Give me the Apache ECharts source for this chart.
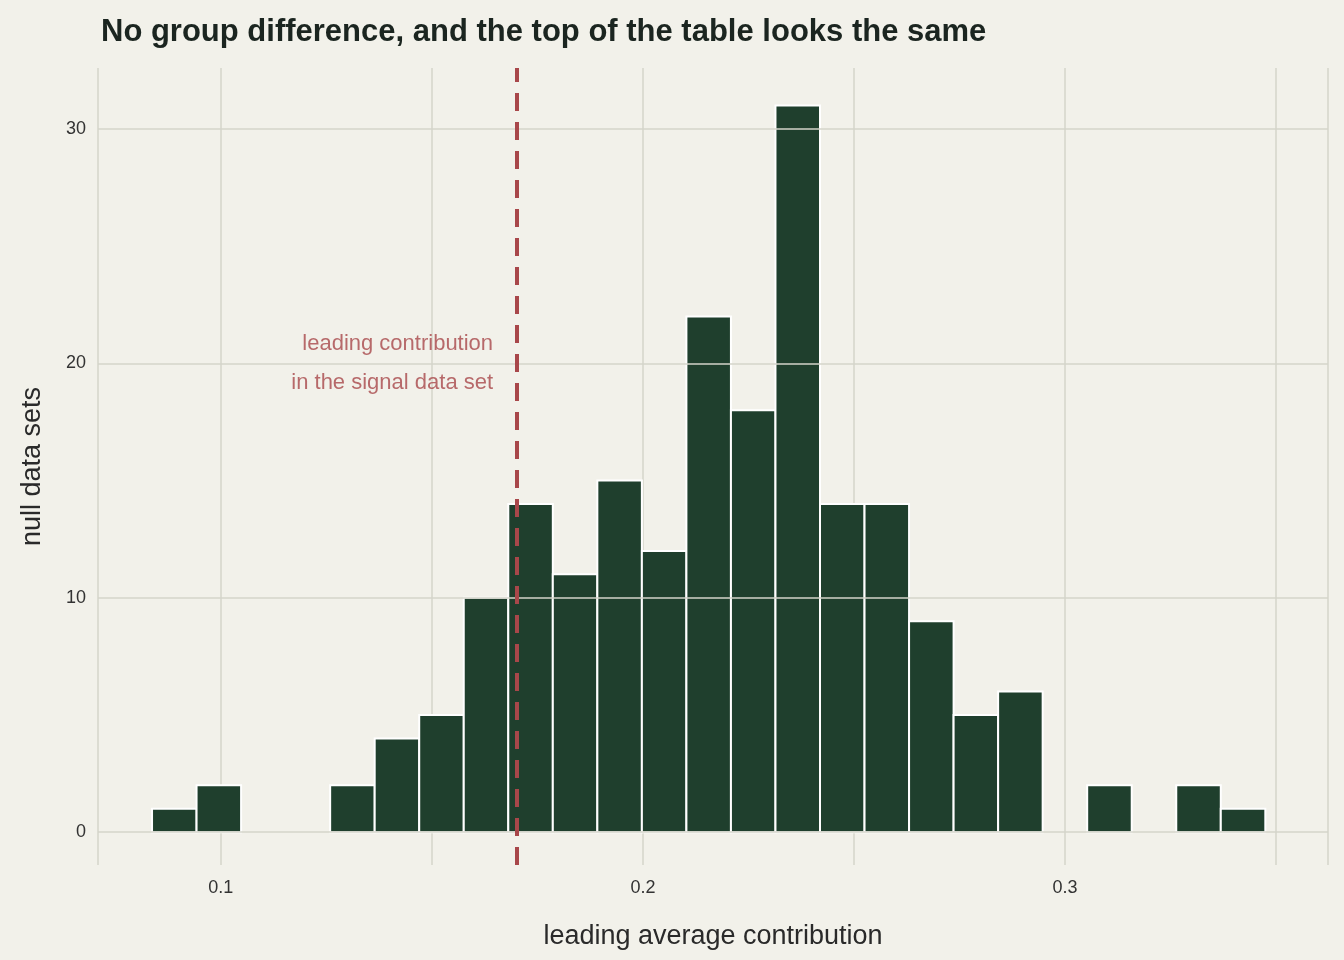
<!DOCTYPE html>
<html><head><meta charset="utf-8">
<script src="https://cdn.jsdelivr.net/npm/echarts@6/dist/echarts.min.js"></script>
<style>html,body{margin:0;background:#f2f1ea}#c{width:1344px;height:960px}</style>
</head><body><div id="c"></div>
<script>
const binStart = 0.0837;
const binWidth = 0.01055;
const counts = [1,2,0,0,2,4,5,10,14,11,15,12,22,18,31,14,14,9,5,6,0,2,0,2,1];
const signalValue = 0.1673;
const xTicks = [0.1,0.2,0.3];
const yTicks = [0,10,20,30];

const data = counts.map((c,i)=>[binStart+i*binWidth, binStart+(i+1)*binWidth, c]).filter(d=>d[2]>0);
const chart = echarts.init(document.getElementById('c'));
const font = 'Helvetica, "Liberation Sans", Arial, sans-serif';
chart.setOption({
  backgroundColor:'#f2f1ea',
  title:{text:'No group difference, and the top of the table looks the same',left:96,top:12,
    textStyle:{fontFamily:font,fontSize:31,fontWeight:'bold',color:'#1b2520'}},
  grid:{left:98,right:16,top:68,bottom:95},
  xAxis:{type:'value',min:0.0709,max:0.3623,
    name:'leading average contribution',nameLocation:'middle',nameGap:58,
    nameTextStyle:{fontFamily:font,fontSize:27,color:'#2a2a2a'},
    axisLine:{show:false},axisTick:{show:false},
    axisLabel:{fontFamily:font,fontSize:18,color:'#333',margin:14,
      customValues:xTicks,formatter:v=>String(v)},
    splitLine:{show:true,lineStyle:{color:'#d4d4ca',width:1.5}},
    axisPointer:{show:false}},
  yAxis:{type:'value',min:-1.4,max:32.6,
    name:'null data sets',nameLocation:'middle',nameGap:52,
    nameTextStyle:{fontFamily:font,fontSize:27,color:'#2a2a2a'},
    axisLine:{show:false},axisTick:{show:false},
    axisLabel:{fontFamily:font,fontSize:18,color:'#333',margin:12,customValues:yTicks},
    splitLine:{show:false}},
  series:[
    {type:'line',data:yTicks.map(v=>[0.0709,v]),symbol:'none',lineStyle:{opacity:0},silent:true,
      markLine:{silent:true,symbol:'none',label:{show:false},
        lineStyle:{color:'#d4d4ca',width:1.5,type:'solid'},data:yTicks.map(v=>({yAxis:v}))}},
    {type:'custom',data:data,encode:{x:[0,1],y:2},
     renderItem:(p,api)=>{
       const a=api.coord([api.value(0),api.value(2)]);
       const b=api.coord([api.value(1),0]);
       return {type:'rect',shape:{x:a[0],y:a[1],width:b[0]-a[0],height:b[1]-a[1]},
         style:{fill:'#1f3f2d',stroke:'#ffffff',lineWidth:2}};
     },
     markLine:{silent:true,symbol:'none',label:{show:false},
       lineStyle:{color:'#a8474a',width:4,type:[18,11]},data:[{xAxis:signalValue}]},
     z:3},
    {type:'scatter',data:[[signalValue-0.0028,20]],symbolSize:0,silent:true,
     label:{show:true,position:'left',distance:0,align:'right',
       formatter:'leading contribution\nin the signal data set',
       fontFamily:font,fontSize:22,lineHeight:39,color:'#a8474a'}}
  ]
});
</script></body></html>
